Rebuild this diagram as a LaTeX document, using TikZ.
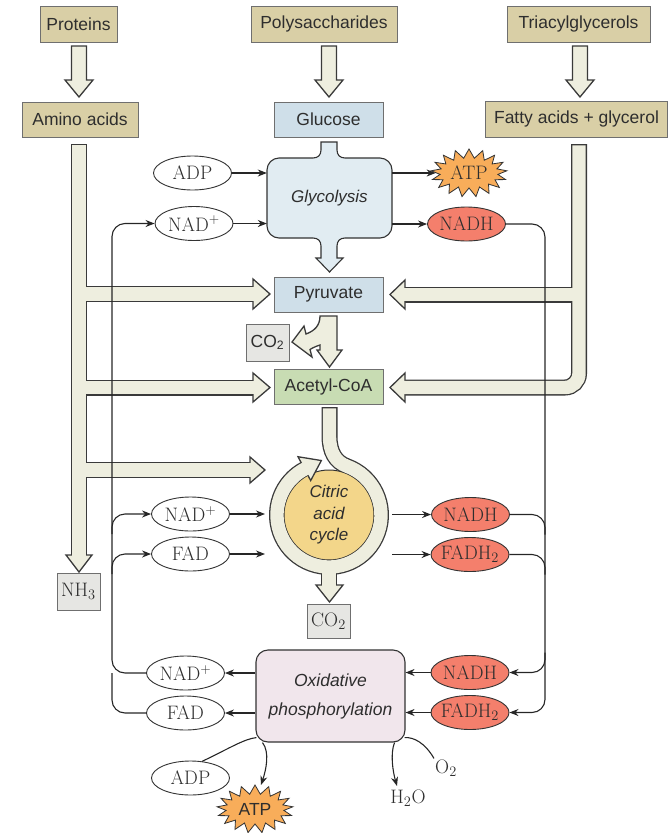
\documentclass[tikz,border=0pt]{standalone}
\usepackage{fontspec}
\usetikzlibrary{shapes.geometric,shapes.symbols,arrows.meta,calc}
\newfontfamily\sansf{Liberation Sans}
\definecolor{tanc}{HTML}{D9CFA6}
\definecolor{boxln}{HTML}{6F6F6F}
\definecolor{bluec}{HTML}{CFDFE9}
\definecolor{glycc}{HTML}{E1ECF2}
\definecolor{greenc}{HTML}{C8DCB3}
\definecolor{grayc}{HTML}{E6E6E3}
\definecolor{pipec}{HTML}{EEEEDF}
\definecolor{pipeln}{HTML}{3A3A3A}
\definecolor{redc}{HTML}{F47F6C}
\definecolor{orangec}{HTML}{F8AD5A}
\definecolor{yellowc}{HTML}{F3D68A}
\definecolor{lavc}{HTML}{F1E6EC}
\definecolor{txt}{HTML}{2E2E2E}
\newcommand{\zb}[1]{\makebox[0pt]{#1}}
\begin{document}
\begin{tikzpicture}[x=1pt,y=-1pt,
  sanslab/.style={font=\sansf\fontsize{17.5}{20}\selectfont, text=txt},
  serlab/.style={font=\fontsize{19.5}{21}\selectfont, text=txt},
  box/.style={rectangle, draw=boxln, line width=0.9pt, inner sep=0pt},
  tanbox/.style={box, fill=tanc, sanslab},
  ell/.style={ellipse, draw=black!80, line width=0.9pt, minimum width=78pt, minimum height=34pt, inner sep=0pt, serlab},
  burst/.style={starburst, starburst points=17, starburst point height=9pt, random starburst=0, draw=black!80, line width=0.8pt, fill=orangec, inner sep=0pt, minimum width=76pt, minimum height=48pt},
  pipeblk/.style={draw=pipeln, line width=16pt, line cap=butt},
  pipecr/.style={draw=pipec, line width=13.4pt, line cap=butt},
  pipehead/.style={draw=pipeln, fill=pipec, line width=1.3pt, line join=miter},
  conn/.style={draw=black!85, line width=1.1pt},
  arr/.style={conn, -{Stealth[length=9pt,width=7pt]}},
  proc/.style={font=\sansf\itshape\fontsize{17}{21.5}\selectfont, text=txt, align=center}
]
\useasboundingbox (0,0) rectangle (669,833);

% ---------- big hollow pipes: outlines ----------
\draw[pipeblk] (79,144) -- (79,556);
\draw[pipeblk] (79,294) -- (254,294);
\draw[pipeblk] (79,387.5) -- (254,387.5);
\draw[pipeblk] (79,470) -- (251,470);
\draw[pipeblk, rounded corners=14pt] (579,144) -- (579,387.5) -- (404,387.5);
\draw[pipeblk] (579,294.5) -- (404,294.5);
\draw[pipeblk] (329.5,407) -- (329.5,436) .. controls (329.5,452) and (335.5,462) .. (346.78,466.14) arc[start angle=-70, end angle=242, radius=52];
\draw[pipeblk] (329,565) -- (329,586);

% citric acid cycle disk
\node[circle, draw=black!80, line width=1pt, fill=yellowc, minimum size=90pt, inner sep=0pt, proc] (cac) at (329,515) {Citric\\acid\\cycle};

% ---------- heads ----------
\draw[pipehead] (66,555) -- (92,555) -- (79,572) -- cycle;
\draw[pipehead] (253,279) -- (253,309) -- (270,294) -- cycle;
\draw[pipehead] (253,373) -- (253,402) -- (270,387.5) -- cycle;
\draw[pipehead] (250,457) -- (250,483) -- (265,470) -- cycle;
\draw[pipehead] (405,280) -- (405,309) -- (390,294.5) -- cycle;
\draw[pipehead] (405,373) -- (405,402) -- (390,387.5) -- cycle;
\draw[pipehead] ($(329,515)+(242:66)$) -- ($(329,515)+(262:55)$) -- ($(329,515)+(242:39)$) -- cycle;
\draw[pipehead] (316,585) -- (343,585) -- (329.5,602) -- cycle;

% ---------- pipes: fill ----------
\draw[pipecr] (79,145.3) -- (79,557);
\draw[pipecr] (79,294) -- (255,294);
\draw[pipecr] (79,387.5) -- (255,387.5);
\draw[pipecr] (79,470) -- (252,470);
\draw[pipecr, rounded corners=14pt] (579,145.3) -- (579,387.5) -- (403,387.5);
\draw[pipecr] (579,294.5) -- (403,294.5);
\draw[pipecr] (329.5,408.3) -- (329.5,436) .. controls (329.5,452) and (335.5,462) .. (346.78,466.14) arc[start angle=-70, end angle=244, radius=52];
\draw[pipecr] (329,565) -- (329,587);

% top arrows
\foreach \x in {79,329,580} {
  \draw[pipehead] ({\x-7.5},46) -- ({\x+7.5},46) -- ({\x+7.5},80) -- ({\x+14},80) -- (\x,97) -- ({\x-14},80) -- ({\x-7.5},80) -- cycle;
}

% pyruvate -> acetyl-CoA with CO2 branch
\draw[pipehead] (320,316) -- (337,316) -- (337,350) -- (342,350) -- (329.5,367) -- (317,350) -- (320,350) -- (320,345) .. controls (317,346) and (313,347.5) .. (310,349.5) -- (312,357) -- (292,342) -- (304,326) -- (306,334) .. controls (314,331) and (320,326) .. (320,316) -- cycle;

% glycolysis shape
\draw[draw=black!80, line width=1.1pt, fill=glycc]
  (321,142) -- (337,142) -- (337,150) .. controls (337,155) and (340,158) .. (345,158)
  -- (380,158) .. controls (386.6,158) and (392,163.4) .. (392,170)
  -- (392,226) .. controls (392,232.6) and (386.6,238) .. (380,238)
  -- (345,238) .. controls (340,238) and (337,241) .. (337,246)
  -- (337,258) -- (343,258) -- (329.5,272) -- (316,258) -- (321,258) -- (321,246)
  .. controls (321,241) and (318,238) .. (313,238)
  -- (279,238) .. controls (272.4,238) and (267,232.6) .. (267,226)
  -- (267,170) .. controls (267,163.4) and (272.4,158) .. (279,158)
  -- (313,158) .. controls (318,158) and (321,155) .. (321,150) -- cycle;
\node[proc, minimum width=125pt, minimum height=80pt, inner sep=0pt] (glyc) at (329.5,198) {Glycolysis};

% ---------- boxes ----------
\node[tanbox, minimum width=77pt, minimum height=36pt] (prot) at (78.5,24) {Proteins};
\node[tanbox, minimum width=146pt, minimum height=36pt] (poly) at (324,24) {Polysaccharides};
\node[tanbox, minimum width=143pt, minimum height=36pt] (tri) at (578.5,24) {Triacylglycerols};
\node[tanbox, minimum width=116pt, minimum height=35pt] (amino) at (80,119.5) {Amino acids};
\node[box, fill=bluec, sanslab, minimum width=109pt, minimum height=35pt] (gluc) at (328.5,119.5) {Glucose};
\node[tanbox, minimum width=182pt, minimum height=36pt] (fatty) at (576.5,119) {Fatty acids + glycerol};
\node[box, fill=bluec, sanslab, minimum width=109pt, minimum height=35pt] (pyr) at (328.5,294.5) {Pyruvate};
\node[box, fill=grayc, sanslab, minimum width=43pt, minimum height=37pt] (co2a) at (267.5,342.5) {CO\textsubscript{2}};
\node[box, fill=greenc, sanslab, minimum width=109pt, minimum height=35pt] (acet) at (328.5,386.5) {Acetyl-CoA};
\node[box, fill=grayc, serlab, minimum width=43pt, minimum height=34pt] (co2b) at (328.5,621) {CO$_2$};
\node[box, fill=grayc, serlab, minimum width=43pt, minimum height=37pt] (nh3) at (78.5,591.5) {NH$_3$};

% ---------- bottom curves (behind the box) ----------
\node[ell, fill=white] (adp3) at (190.5,778) {\zb{ADP}};
\node[burst, sanslab] (atp3) at (255,809) {\zb{ATP}};
\node[serlab, inner sep=1pt] (o2) at (446,768) {O$_2$};
\node[serlab, inner sep=1pt] (h2o) at (408,798) {H$_2$O};
\coordinate (atptip) at (261,785);
\coordinate (h2otip) at (397,786);
\node[rectangle, rounded corners=12pt, draw=black!80, line width=1.1pt, fill=lavc, minimum width=149pt, minimum height=92pt, proc, font=\sansf\itshape\fontsize{17.5}{29}\selectfont] (oxi) at (330.5,696) {Oxidative\\phosphorylation};
\draw[conn] (adp3.55) .. controls (230,748) and (244,739) .. ($(oxi.south west)+(1,-5)$);
\draw[arr] ($(oxi.south west)+(7,0)$) .. controls (270,752) and (266,770) .. (atptip);
\draw[conn] (o2.north west) .. controls (425,743) and (414,737) .. ($(oxi.south east)+(-1,-5)$);
\draw[arr] ($(oxi.south east)+(-11,0)$) .. controls (390,754) and (393,772) .. (h2otip);

% ---------- small nodes ----------
\node[ell, fill=white] (adp1) at (192.5,173) {\zb{ADP}};
\node[ell, fill=white] (nad1) at (194,223.5) {\zb{NAD\textsuperscript{+}}};
\node[burst, serlab] (atp1) at (469,173) {\zb{ATP}};
\node[ell, fill=redc] (nadh1) at (466.5,224) {\zb{NADH}};
\node[ell, fill=white] (nad2) at (190.5,514) {\zb{NAD\textsuperscript{+}}};
\node[ell, fill=white] (fad2) at (190.5,554) {\zb{FAD}};
\node[ell, fill=redc] (nadh2) at (470.5,514.5) {\zb{NADH}};
\node[ell, fill=redc] (fadh2) at (470,554.5) {\zb{FADH$_2$}};
\node[ell, fill=white] (nad3) at (185.5,673) {\zb{NAD\textsuperscript{+}}};
\node[ell, fill=white] (fad3) at (185.5,713) {\zb{FAD}};
\node[ell, fill=redc] (nadh3) at (470,672.5) {\zb{NADH}};
\node[ell, fill=redc] (fadh3) at (470,712.5) {\zb{FADH$_2$}};

\coordinate (lx) at (112,0);
\coordinate (rx) at (545,0);
\coordinate (ringW) at (265,515);
\coordinate (ringE) at (392,515);

% ---------- thin connectors ----------
\draw[arr] (adp1.east) -- (adp1 -| glyc.west);
\draw[arr] (nad1.east) -- (nad1 -| glyc.west);
\draw[arr] (glyc.east |- atp1) -- (atp1.west);
\draw[arr] (glyc.east |- nadh1) -- (nadh1.west);
\draw[arr] (nad2.east) -- (nad2 -| ringW);
\draw[arr] (fad2.east) -- (fad2 -| ringW);
\draw[arr] (ringE |- nadh2) -- (nadh2.west);
\draw[arr] (ringE |- fadh2) -- (fadh2.west);
\draw[arr] (oxi.west |- nad3) -- (nad3.east);
\draw[arr] (oxi.west |- fad3) -- (fad3.east);
\draw[arr] (nadh3.west) -- (nadh3 -| oxi.east);
\draw[arr] (fadh3.west) -- (fadh3 -| oxi.east);

\draw[arr, rounded corners=13pt] (nad3.west) -- (nad3.west -| lx) -- (nad1.west -| lx) -- (nad1.west);
\draw[conn, rounded corners=13pt] (fad3.west) -- (fad3.west -| lx) -- (nad3.west -| lx);
\draw[arr, rounded corners=13pt] ($(nad2.west -| lx)+(0,20)$) -- (nad2.west -| lx) -- (nad2.west);
\draw[arr, rounded corners=13pt] ($(fad2.west -| lx)+(0,20)$) -- (fad2.west -| lx) -- (fad2.west);

\draw[arr, rounded corners=13pt] (nadh1.east) -- (nadh1.east -| rx) -- (fadh3.east -| rx) -- (fadh3.east);
\draw[conn, rounded corners=13pt] (nadh2.east) -- (nadh2.east -| rx) -- ($(nadh2.east -| rx)+(0,20)$);
\draw[conn, rounded corners=13pt] (fadh2.east) -- (fadh2.east -| rx) -- ($(fadh2.east -| rx)+(0,20)$);
\draw[arr, rounded corners=13pt] ($(nadh3.east -| rx)+(0,-20)$) -- (nadh3.east -| rx) -- (nadh3.east);
\end{tikzpicture}
\end{document}
